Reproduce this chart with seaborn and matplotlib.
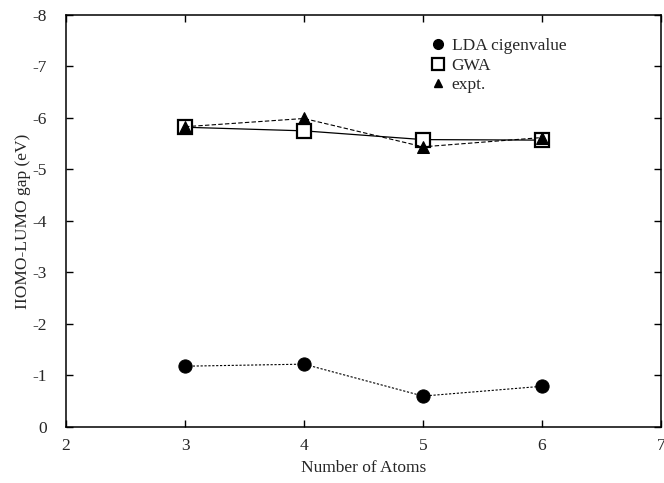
import matplotlib
matplotlib.use("Agg")
import matplotlib.pyplot as plt
import seaborn as sns
from matplotlib.lines import Line2D

atoms = [3, 4, 5, 6]
lda = [-1.18, -1.22, -0.60, -0.79]
gwa = [-5.82, -5.75, -5.58, -5.57]
expt = [-5.83, -5.99, -5.44, -5.62]

xticks = [2, 3, 4, 5, 6, 7]
yticks = [0, -1, -2, -3, -4, -5, -6, -7, -8]

sns.set_theme(style="ticks")
plt.rcParams['font.family'] = ['Liberation Serif', 'DejaVu Serif']

fig = plt.figure(figsize=(6.64, 4.83), dpi=100)
ax = fig.add_axes([0.0994, 0.116, 0.8961, 0.853])

sns.lineplot(x=atoms, y=lda, ax=ax, color='black', linewidth=0.8,
             linestyle=(0, (2, 1.5)), marker='o', markersize=9.5,
             markerfacecolor='black', markeredgecolor='black')
sns.lineplot(x=atoms, y=gwa, ax=ax, color='black', linewidth=0.9,
             linestyle='-', marker='s', markersize=10.5,
             markerfacecolor='white', markeredgecolor='black', markeredgewidth=1.6)
sns.lineplot(x=atoms, y=expt, ax=ax, color='black', linewidth=0.8,
             linestyle=(0, (4, 2)), marker='^', markersize=8,
             markerfacecolor='black', markeredgecolor='black')

ax.set_xlim(2, 7)
ax.set_ylim(0, -8)
ax.set_xticks(xticks)
ax.set_yticks(yticks)
ax.set_xticklabels([str(v) for v in xticks], fontsize=12.5)
ax.set_yticklabels([str(v) for v in yticks], fontsize=12.5)
ax.tick_params(axis='x', direction='in', top=True, length=5, width=1, color='black', pad=8)
ax.tick_params(axis='y', direction='in', right=True, length=5, width=1, color='black', pad=14)
for s in ax.spines.values():
    s.set_linewidth(1.1)
    s.set_color('black')

ax.set_xlabel('Number of Atoms', fontsize=12.5, labelpad=4)
ax.set_ylabel('IIOMO-LUMO gap (eV)', fontsize=12.5, labelpad=1)

handles = [
    Line2D([], [], linestyle='none', marker='o', markersize=7, color='black'),
    Line2D([], [], linestyle='none', marker='s', markersize=8,
           markerfacecolor='white', markeredgecolor='black', markeredgewidth=1.6),
    Line2D([], [], linestyle='none', marker='^', markersize=6, color='black'),
]
ax.legend(handles, ['LDA cigenvalue', 'GWA', 'expt.'], loc='upper left',
          bbox_to_anchor=(0.587, 0.982), frameon=False, fontsize=12.5,
          handlelength=0.8, handletextpad=0.4, labelspacing=0.2)

fig.savefig('out.png', dpi=100)
